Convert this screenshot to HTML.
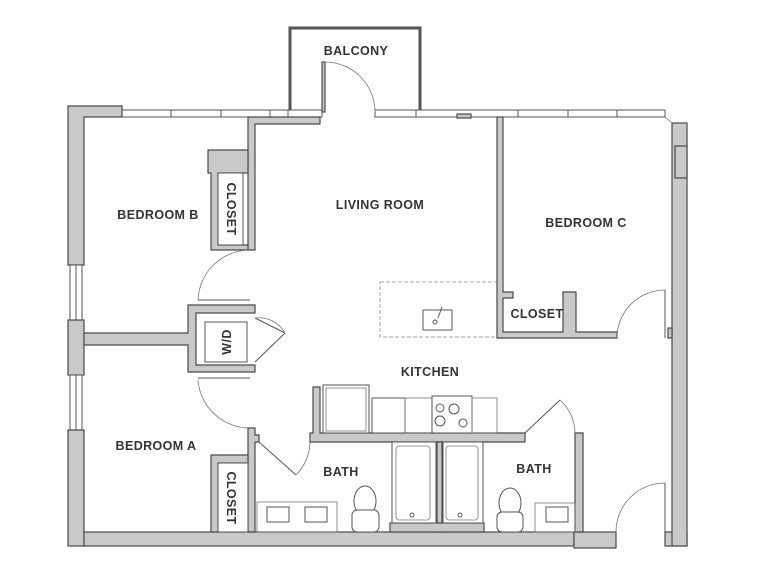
<!DOCTYPE html>
<html><head><meta charset="utf-8"><style>
html,body{margin:0;padding:0;background:#fff;}
svg{display:block}
text{font-family:"Liberation Sans",sans-serif;font-weight:bold;font-size:12.5px;fill:#333;letter-spacing:0.4px}
.w{fill:#c9c9c9;stroke:#4a4a4a;stroke-width:1.2}
.l{fill:none;stroke:#555;stroke-width:1}
.t{fill:none;stroke:#777;stroke-width:0.8}
.f{fill:#fff;stroke:#555;stroke-width:1}
</style></head><body>
<svg width="767" height="585" viewBox="0 0 767 585" xmlns="http://www.w3.org/2000/svg">
<rect width="767" height="585" fill="#fff"/>
<!-- top windows -->
<rect class="f" x="122" y="110" width="166" height="7"/>
<line class="l" x1="171" y1="110" x2="171" y2="117"/><line class="l" x1="221" y1="110" x2="221" y2="117"/><line class="l" x1="270" y1="110" x2="270" y2="117"/>
<rect class="f" x="375" y="110" width="290" height="7"/>
<line class="l" x1="416" y1="110" x2="416" y2="117"/><line class="l" x1="518" y1="110" x2="518" y2="117"/><line class="l" x1="568" y1="110" x2="568" y2="117"/><line class="l" x1="617" y1="110" x2="617" y2="117"/>
<rect class="w" x="457" y="114" width="14" height="4"/>
<rect class="f" x="288" y="110" width="34" height="7"/>
<!-- balcony -->
<path d="M290 110 V28 H420 V110" fill="none" stroke="#555" stroke-width="3"/>
<rect class="w" x="322" y="62" width="3" height="50"/>
<path class="t" d="M325 62 A50 50 0 0 1 375 112"/>
<!-- left wall -->
<path class="w" d="M68 106 H122 V117 H84 V265 H68 Z"/>
<rect class="f" x="70" y="265" width="12" height="55"/><line class="l" x1="76" y1="265" x2="76" y2="320"/>
<rect class="w" x="68" y="320" width="16" height="55"/>
<rect class="f" x="70" y="375" width="12" height="55"/><line class="l" x1="76" y1="375" x2="76" y2="430"/>
<rect class="w" x="68" y="430" width="16" height="116"/>
<!-- bottom wall -->
<rect class="w" x="84" y="532" width="490" height="14"/>
<rect class="w" x="574" y="532" width="42" height="16"/>
<rect class="w" x="665" y="532" width="22" height="14"/>
<!-- right wall -->
<rect class="w" x="672" y="123" width="15" height="423"/>
<rect class="w" x="675" y="146" width="12" height="32"/>
<line class="t" x1="665" y1="117" x2="672" y2="123"/>
<!-- bedroom B partition -->
<path class="w" d="M248 117 H320 V124 H255 V250 H248 Z"/>
<path class="w" d="M208 150 H248 V173 H218 V245 H248 V250 H211 V173 H208 Z"/>
<rect class="f" x="218" y="173" width="25" height="72"/>
<path class="t" d="M250 250 A52 52 0 0 0 198 300"/>
<line class="l" x1="198" y1="300" x2="250" y2="300"/>
<!-- W/D -->
<path class="w" d="M84 333 H188 V305 H255 V313 H196 V365 H255 V372 H188 V345 H84 Z"/>
<rect class="f" x="205" y="322" width="42" height="40"/>
<text transform="translate(231,342) rotate(-90)" text-anchor="middle" font-size="13">W/D</text>
<line class="l" x1="255" y1="318" x2="285" y2="333"/><line class="l" x1="255" y1="362" x2="285" y2="333"/>
<path class="t" d="M255 318 A30 30 0 0 1 285 333"/>
<!-- Bedroom A door & closet -->
<line class="l" x1="198" y1="378" x2="250" y2="378"/>
<path class="t" d="M198 380 A52 52 0 0 0 250 428"/>
<path class="w" d="M248 428 H255 V435 H259 V442 H255 V532 H248 Z"/>
<path class="w" d="M211 455 H248 V463 H218 V532 H211 Z"/>
<rect class="f" x="218" y="463" width="30" height="69"/>
<line class="l" x1="259" y1="442" x2="296" y2="475"/>
<path class="t" d="M296 475 A48 48 0 0 0 310 440"/>
<!-- kitchen -->
<path class="w" d="M313 387 H320 V433 H525 V442 H310 V433 H313 Z"/>
<rect class="f" x="323" y="385" width="46" height="48"/><rect class="t" x="326" y="388" width="40" height="43"/>
<rect class="f" x="372" y="398" width="33" height="35"/>
<rect class="t" x="405" y="398" width="27" height="35"/>
<rect class="f" x="432" y="396" width="40" height="37" stroke-width="2"/>
<circle class="l" cx="440" cy="408" r="4"/><circle class="l" cx="454" cy="409" r="5"/><circle class="l" cx="440" cy="421" r="5"/><circle class="l" cx="463" cy="423" r="4"/>
<rect class="t" x="472" y="398" width="25" height="35"/>
<!-- island -->
<rect x="380" y="282" width="117" height="55" fill="none" stroke="#888" stroke-width="0.8" stroke-dasharray="4 2"/>
<rect class="l" x="423" y="310" width="29" height="20"/><circle class="l" cx="435" cy="322" r="2"/><line class="l" x1="438" y1="318" x2="442" y2="307"/>
<!-- tubs -->
<rect class="w" x="437" y="442" width="5" height="90"/>
<rect class="w" x="390" y="523" width="94" height="9"/>
<rect class="f" x="392" y="442" width="44" height="81"/><rect class="t" x="396" y="446" width="34" height="74" rx="3"/>
<rect class="f" x="443" y="442" width="40" height="81"/><rect class="t" x="446" y="446" width="32" height="74" rx="3"/>
<circle class="l" cx="412" cy="515" r="2"/><circle class="l" cx="460" cy="515" r="2"/>
<!-- bath 1 fixtures -->
<rect class="t" x="257" y="502" width="80" height="30"/>
<rect class="l" x="267" y="507" width="22" height="15"/><rect class="l" x="305" y="507" width="22" height="15"/>
<ellipse class="l" cx="365" cy="501" rx="11" ry="15"/><rect class="f" x="352" y="510" width="27" height="22" rx="5"/>
<!-- bath 2 -->
<path class="w" d="M575 433 H583 V532 H575 V440 H575 Z"/>
<line class="l" x1="525" y1="433" x2="560" y2="400"/>
<path class="t" d="M560 400 A45 45 0 0 1 575 433"/>
<ellipse class="l" cx="510" cy="503" rx="11" ry="15"/><rect class="f" x="497" y="512" width="26" height="20" rx="5"/>
<rect class="t" x="535" y="503" width="40" height="29"/>
<rect class="l" x="546" y="507" width="22" height="15"/>
<!-- entry door -->
<line class="l" x1="665" y1="483" x2="665" y2="532"/>
<path class="t" d="M616 532 A49 49 0 0 1 665 483"/>
<!-- bedroom C -->
<path class="w" d="M497 117 H503 V292 H513 V298 H503 V332 H563 V292 H576 V332 H617 V338 H497 Z"/>
<line class="l" x1="665" y1="290" x2="665" y2="338"/>
<path class="t" d="M617 338 A48 48 0 0 1 665 290"/>
<rect class="w" x="668" y="328" width="4" height="10"/>
<!-- labels -->
<text x="356" y="55" text-anchor="middle">BALCONY</text>
<text x="380" y="209" text-anchor="middle">LIVING ROOM</text>
<text x="158" y="219" text-anchor="middle">BEDROOM B</text>
<text x="586" y="227" text-anchor="middle">BEDROOM C</text>
<text x="537" y="318" text-anchor="middle" font-size="11.5">CLOSET</text>
<text transform="translate(227,209) rotate(90)" text-anchor="middle" font-size="11">CLOSET</text>
<text transform="translate(227,498) rotate(90)" text-anchor="middle" font-size="11">CLOSET</text>
<text x="430" y="376" text-anchor="middle">KITCHEN</text>
<text x="156" y="450" text-anchor="middle">BEDROOM A</text>
<text x="341" y="476" text-anchor="middle">BATH</text>
<text x="534" y="473" text-anchor="middle">BATH</text>
</svg>
</body></html>
